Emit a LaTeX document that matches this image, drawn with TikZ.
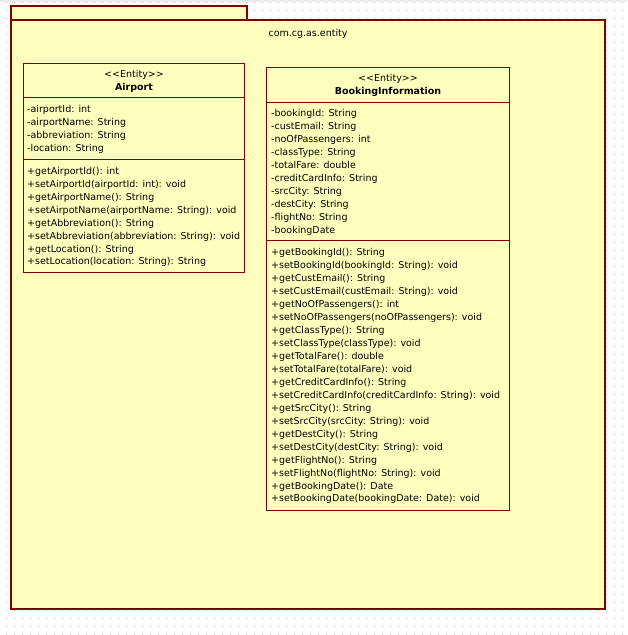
\documentclass[tikz,border=0pt]{standalone}
\usepackage{fontspec}
\setmainfont{DejaVu Sans}
\definecolor{umlfill}{HTML}{FFFFBE}
\definecolor{umlline}{HTML}{800000}
\definecolor{griddot}{HTML}{B4B4B4}
\newcommand{\umlfont}{\fontsize{9.5}{11}\selectfont}
\tikzset{
    pkgbox/.style={draw=umlline, fill=umlfill, line width=1.1pt},
    clsbox/.style={draw=umlline, fill=umlfill, line width=.8pt},
    clsline/.style={draw=umlline, line width=.8pt},
    member/.style={anchor=base west, inner sep=0pt, font=\umlfont},
    title/.style={anchor=base, inner sep=0pt, font=\umlfont},
}
\begin{document}
\begin{tikzpicture}[x=1pt, y=-1pt]
    \useasboundingbox (0, 0) rectangle (627, 635);
    \fill[white] (0, 0) rectangle (627, 635);
    \fill[black!8] (0, 0) rectangle (627, 2);
    %%grid
    \foreach \gy in {2, 10, ..., 634}
        \draw[griddot, line width=1pt, dash pattern=on 1pt off 7pt] (5.5, \gy) -- (627, \gy);

    %%package
    \draw[pkgbox] (11, 6) rectangle (247, 20);
    \draw[pkgbox] (11, 20) rectangle (605, 609);
    \node[title] (pkg) at (308, 36){com.cg.as.entity};

    %%Airport
    \draw[clsbox] (23, 63) rectangle (244, 272);
    \draw[clsline] (23, 97) -- (244, 97);
    \draw[clsline] (23, 159) -- (244, 159);
    \node[title] (apst) at (134, 77){<{}<Entity>{}>};
    \node[title, font=\umlfont\bfseries] (apname) at (134, 90){Airport};
        \node[member] (apa1) at (27, 112){-airportId: int};
        \node[member] (apa2) at (27, 125){-airportName: String};
        \node[member] (apa3) at (27, 138){-abbreviation: String};
        \node[member] (apa4) at (27, 151){-location: String};
        \node[member] (apm1) at (27, 174){+getAirportId(): int};
        \node[member] (apm2) at (27, 187){+setAirportId(airportId: int): void};
        \node[member] (apm3) at (27, 200){+getAirportName(): String};
        \node[member] (apm4) at (27, 213){+setAirpotName(airportName: String): void};
        \node[member] (apm5) at (27, 226){+getAbbreviation(): String};
        \node[member] (apm6) at (27, 239){+setAbbreviation(abbreviation: String): void};
        \node[member] (apm7) at (27, 252){+getLocation(): String};
        \node[member] (apm8) at (27, 264){+setLocation(location: String): String};

    %%BookingInformation
    \draw[clsbox] (266, 67) rectangle (509, 510);
    \draw[clsline] (266, 102) -- (509, 102);
    \draw[clsline] (266, 240) -- (509, 240);
    \node[title] (bist) at (388, 81){<{}<Entity>{}>};
    \node[title, font=\umlfont\bfseries] (biname) at (388, 94){BookingInformation};
        \node[member] (bia1) at (271, 116){-bookingId: String};
        \node[member] (bia2) at (271, 129){-custEmail: String};
        \node[member] (bia3) at (271, 142){-noOfPassengers: int};
        \node[member] (bia4) at (271, 155){-classType: String};
        \node[member] (bia5) at (271, 168){-totalFare: double};
        \node[member] (bia6) at (271, 181){-creditCardInfo: String};
        \node[member] (bia7) at (271, 194){-srcCity: String};
        \node[member] (bia8) at (271, 207){-destCity: String};
        \node[member] (bia9) at (271, 220){-flightNo: String};
        \node[member] (bia10) at (271, 233){-bookingDate};

        \node[member] (bim1) at (271, 255){+getBookingId(): String};
        \node[member] (bim2) at (271, 268){+setBookingId(bookingId: String): void};
        \node[member] (bim3) at (271, 281){+getCustEmail(): String};
        \node[member] (bim4) at (271, 294){+setCustEmail(custEmail: String): void};
        \node[member] (bim5) at (271, 307){+getNoOfPassengers(): int};
        \node[member] (bim6) at (271, 320){+setNoOfPassengers(noOfPassengers): void};
        \node[member] (bim7) at (271, 333){+getClassType(): String};
        \node[member] (bim8) at (271, 346){+setClassType(classType): void};
        \node[member] (bim9) at (271, 359){+getTotalFare(): double};
        \node[member] (bim10) at (271, 372){+setTotalFare(totalFare): void};
        \node[member] (bim11) at (271, 385){+getCreditCardInfo(): String};
        \node[member] (bim12) at (271, 398){+setCreditCardInfo(creditCardInfo: String): void};
        \node[member] (bim13) at (271, 411){+getSrcCity(): String};
        \node[member] (bim14) at (271, 424){+setSrcCity(srcCity: String): void};
        \node[member] (bim15) at (271, 437){+getDestCity(): String};
        \node[member] (bim16) at (271, 450){+setDestCity(destCity: String): void};
        \node[member] (bim17) at (271, 463){+getFlightNo(): String};
        \node[member] (bim18) at (271, 476){+setFlightNo(flightNo: String): void};
        \node[member] (bim19) at (271, 489){+getBookingDate(): Date};
        \node[member] (bim20) at (271, 501){+setBookingDate(bookingDate: Date): void};

\end{tikzpicture}
\end{document}
